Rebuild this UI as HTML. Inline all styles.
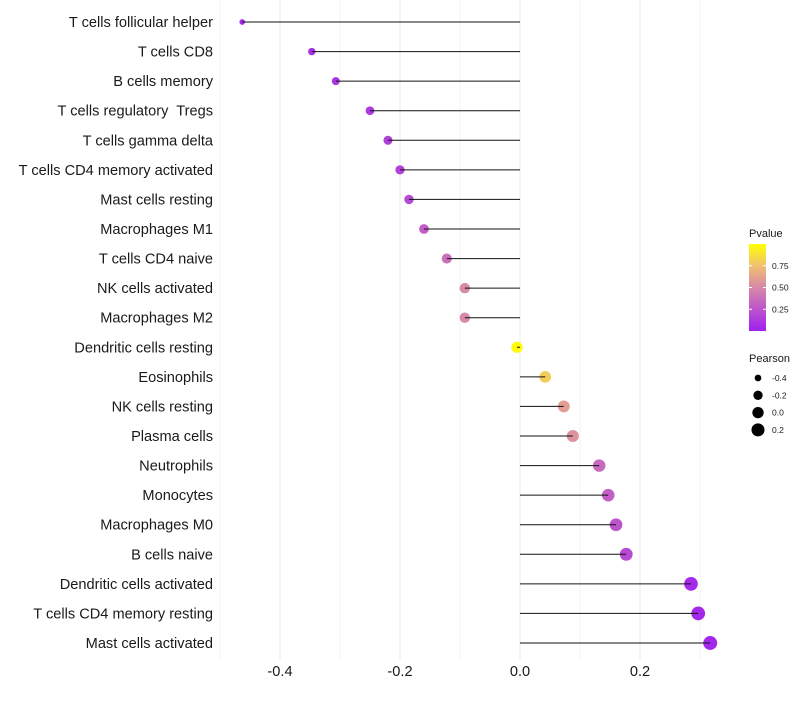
<!DOCTYPE html>
<html><head><meta charset="utf-8"><style>
body{margin:0;background:#fff;font-family:"Liberation Sans",sans-serif}
text{white-space:pre}
</style></head><body>
<svg id="chart" width="800" height="700" xmlns="http://www.w3.org/2000/svg" font-family="Liberation Sans, sans-serif"></svg>
<script>
const categories=["T cells follicular helper","T cells CD8","B cells memory","T cells regulatory  Tregs","T cells gamma delta","T cells CD4 memory activated","Mast cells resting","Macrophages M1","T cells CD4 naive","NK cells activated","Macrophages M2","Dendritic cells resting","Eosinophils","NK cells resting","Plasma cells","Neutrophils","Monocytes","Macrophages M0","B cells naive","Dendritic cells activated","T cells CD4 memory resting","Mast cells activated"];
const pearson=[-0.463,-0.347,-0.307,-0.25,-0.22,-0.2,-0.185,-0.16,-0.122,-0.092,-0.092,-0.005,0.042,0.073,0.088,0.132,0.147,0.16,0.177,0.285,0.297,0.317];
const pvalues=[0.05,0.08,0.1,0.12,0.15,0.17,0.2,0.3,0.38,0.5,0.5,0.98,0.8,0.6,0.55,0.35,0.3,0.25,0.2,0.05,0.04,0.03];
const xTicks=[-0.4,-0.2,0.0,0.2];
const xTickLabels=["-0.4","-0.2","0.0","0.2"];
const sizeLegend=[-0.4,-0.2,0.0,0.2];
const pTicks=[0.25,0.5,0.75];

const NS="http://www.w3.org/2000/svg";
const svg=document.getElementById('chart');
function el(t,a,p){const e=document.createElementNS(NS,t);for(const k in a)e.setAttribute(k,a[k]);(p||svg).appendChild(e);return e;}
const xs=v=>520+v*600;
const ys=i=>22+i*(643-22)/(categories.length-1);
const rs=v=>Math.sqrt(Math.max(1,32+52*v));
const stops=[[0,[160,32,240]],[0.5,[216,136,168]],[0.75,[240,192,112]],[1,[255,255,0]]];
function col(p){for(let i=1;i<stops.length;i++){if(p<=stops[i][0]){const a=stops[i-1],b=stops[i],t=(p-a[0])/(b[0]-a[0]);const c=a[1].map((x,j)=>Math.round(x+(b[1][j]-x)*t));return `rgb(${c})`;}}return 'rgb(255,255,0)';}

const grid=el('g',{});
for(let k=-5;k<=3;k++){const v=k/10;el('line',{x1:xs(v),x2:xs(v),y1:0,y2:660,stroke:k%2===0?'#ebebeb':'#f3f3f3','stroke-width':1},grid);}
const g=el('g',{});
categories.forEach((c,i)=>{
  const y=ys(i);
  const t=el('text',{x:213,y:y+5,'text-anchor':'end','font-size':14.6,fill:'#1a1a1a'});t.textContent=c;
  
  const d=el('circle',{cx:xs(pearson[i]),cy:y,r:rs(pearson[i]),fill:col(pvalues[i])},g);
  
  const l=el('line',{x1:xs(0),x2:xs(pearson[i]),y1:y,y2:y,stroke:'#111','stroke-width':1},g);
  
});
xTicks.forEach((v,i)=>{const t=el('text',{x:xs(v),y:676,'text-anchor':'middle','font-size':14.6,fill:'#1a1a1a'});t.textContent=xTickLabels[i];
});
const lg=el('g',{});
const tt=el('text',{x:749,y:237,'font-size':11,fill:'#1a1a1a'},lg);tt.textContent='Pvalue';
const defs=el('defs',{});const gr=el('linearGradient',{id:'pg',x1:0,y1:1,x2:0,y2:0},defs);
stops.forEach(s=>el('stop',{offset:s[0],'stop-color':`rgb(${s[1]})`},gr));
el('rect',{x:749,y:244,width:17,height:87,fill:'url(#pg)'},lg);
pTicks.forEach(p=>{const y=331-p*87;el('line',{x1:749,x2:752,y1:y,y2:y,stroke:'#fff'},lg);el('line',{x1:763,x2:766,y1:y,y2:y,stroke:'#fff'},lg);
const t=el('text',{x:772,y:y+3,'font-size':8.5,fill:'#1a1a1a'},lg);t.textContent=p.toFixed(2);});
const sg=el('g',{});
const st=el('text',{x:749,y:362,'font-size':11,fill:'#1a1a1a'},sg);st.textContent='Pearson';
sizeLegend.forEach((v,i)=>{const y=378+i*17.3;el('circle',{cx:758,cy:y,r:rs(v),fill:'#000'},sg);
const t=el('text',{x:772,y:y+3,'font-size':8.5,fill:'#1a1a1a'},sg);t.textContent=v.toFixed(1);});
</script>
</body></html>
